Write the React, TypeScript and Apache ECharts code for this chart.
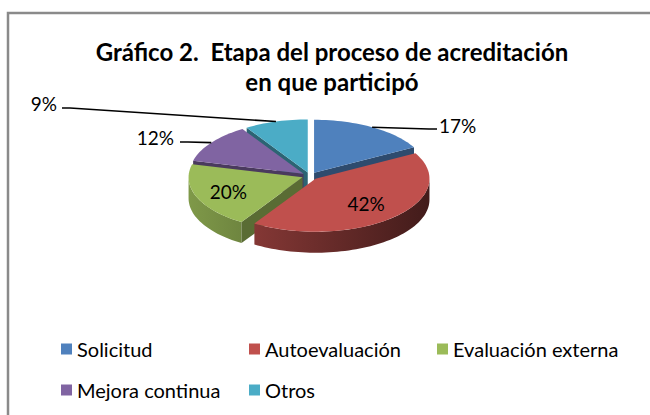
import React, { useEffect, useRef } from 'react';
import * as echarts from 'echarts';

// ---- data ----
const categories = ['Solicitud', 'Autoevaluación', 'Evaluación externa', 'Mejora continua', 'Otros'];
const percentages = [17, 42, 20, 12, 9];
const colors = ['#4F81BD', '#C0504D', '#9BBB59', '#8064A2', '#4BACC6'];
const titleLines = ['Gráfico 2.  Etapa del proceso de acreditación', 'en que participó'];

// ---- layout / style ----
const FONT = 'Lato, "Open Sans", sans-serif';
const CX = 310;
const CY = 176;
const RX = 114;
const RY = 53;
const DEPTH = 21;
const EXPLODE = 8;
// label placement per slice (relative to pie centre)
const labelLayout: any[] = [
  { outside: true, dx: 129, dy: -51, align: 'left', lineDx: -2, lineDy: 4 },
  { outside: false, f: 0.65 },
  { outside: false, f: 0.7 },
  { outside: true, dx: -136, dy: -39, align: 'right', lineDx: 6, lineDy: 5 },
  { outside: true, dx: -253, dy: -73, align: 'right', lineDx: 5, lineDy: 5 },
];
const drawOrder = [2, 5, 4, 3, 1];

function shade(hex: string, k: number): string {
  const n = parseInt(hex.slice(1), 16);
  const r = Math.round(((n >> 16) & 255) * k);
  const g = Math.round(((n >> 8) & 255) * k);
  const b = Math.round((n & 255) * k);
  return `rgb(${r},${g},${b})`;
}

function makeRender(i: number) {
  return (params: any, api: any) => {
    const total = percentages.reduce((a, b) => a + b, 0);
    let start = 0;
    for (let k = 0; k < i; k++) start += (percentages[k] / total) * 360;
    const v = api.value(0);
    const end = start + (v / total) * 360;
    const mid = (start + end) / 2;
    const mr = (mid * Math.PI) / 180;
    const ox = EXPLODE * Math.sin(mr);
    const oy = -EXPLODE * (RY / RX) * Math.cos(mr);
    const P = (t: number, dz: number, f = 1) => {
      const r = (t * Math.PI) / 180;
      return [CX + ox + RX * f * Math.sin(r), CY + oy - RY * f * Math.cos(r) + dz];
    };
    const arc = (a: number, b: number, dz: number) => {
      const pts: number[][] = [];
      const n = Math.max(2, Math.ceil((b - a) / 2));
      for (let j = 0; j <= n; j++) pts.push(P(a + ((b - a) * j) / n, dz));
      return pts;
    };
    const base = colors[i];
    const children: any[] = [];
    const c0 = [CX + ox, CY + oy];

    // outer wall (front half only)
    const ws = Math.max(start, 90);
    const we = Math.min(end, 270);
    if (we > ws) {
      const top = arc(ws, we, 0);
      const bot = arc(ws, we, DEPTH).reverse();
      children.push({
        type: 'polygon',
        shape: { points: top.concat(bot) },
        style: {
          fill: new echarts.graphic.LinearGradient(
            CX - RX - EXPLODE, 0, CX + RX + EXPLODE, 0,
            [
              { offset: 0, color: shade(base, 0.82) },
              { offset: 1, color: shade(base, 0.34) },
            ],
            true
          ),
        },
      });
    }
    // radial side faces
    const face = (t: number) => {
      const a = P(t, 0);
      const b = P(t, DEPTH);
      return {
        type: 'polygon',
        shape: { points: [c0, a, b, [c0[0], c0[1] + DEPTH]] },
        style: { fill: shade(base, 0.58) },
      };
    };
    if (Math.sin((start * Math.PI) / 180) < -1e-6) children.push(face(start));
    if (Math.sin((end * Math.PI) / 180) > 1e-6) children.push(face(end));
    // top face
    children.push({
      type: 'polygon',
      shape: { points: [c0].concat(arc(start, end, 0)) },
      style: { fill: base },
    });

    // label
    const text = `${Math.round((v / total) * 100)}%`;
    const L = labelLayout[i];
    const textStyle = {
      text,
      fill: '#000',
      fontSize: 19,
      fontFamily: FONT,
      font: `19px ${FONT}`,
    };
    if (L.outside) {
      const lx = CX + L.dx;
      const ly = CY + L.dy;
      const rim = P(mid, 0);
      const ex = lx + L.lineDx;
      const ey = ly + L.lineDy;
      const hx = ex + (L.align === 'left' ? -8 : 8);
      children.push({
        type: 'polyline',
        shape: { points: [[ex, ey], [hx, ey], rim] },
        style: { stroke: '#000', lineWidth: 1.6, fill: null },
        z2: 20,
      });
      children.push({
        type: 'text',
        x: lx,
        y: ly,
        style: {
          ...textStyle,
          align: L.align,
          textAlign: L.align,
          verticalAlign: 'middle',
          textVerticalAlign: 'middle',
        },
        z2: 21,
      });
    } else {
      const p = P(mid, 0, L.f);
      children.push({
        type: 'text',
        x: p[0],
        y: p[1],
        style: {
          ...textStyle,
          align: 'center',
          textAlign: 'center',
          verticalAlign: 'middle',
          textVerticalAlign: 'middle',
        },
        z2: 21,
      });
    }
    return { type: 'group', children };
  };
}

export default function App() {
  const ref = useRef<HTMLDivElement>(null);
  useEffect(() => {
    if (!ref.current) return;
    const chart = echarts.init(ref.current, null, { renderer: 'svg' });
    const legendCommon = {
      orient: 'vertical',
      itemWidth: 11,
      itemHeight: 11,
      itemGap: 19,
      icon: 'rect',
      padding: 0,
      selectedMode: false,
      textStyle: { fontFamily: FONT, fontSize: 20, color: '#000', lineHeight: 22 },
    };
    chart.setOption({
      animation: false,
      backgroundColor: '#fff',
      title: {
        text: titleLines.join('\n'),
        left: 327,
        top: 31,
        textAlign: 'center',
        textStyle: {
          fontFamily: FONT,
          fontSize: 24,
          fontWeight: 'bold',
          color: '#000',
          lineHeight: 30,
        },
      },
      legend: [
        { ...legendCommon, data: [categories[0], categories[3]], left: 61, top: 338 },
        { ...legendCommon, data: [categories[1], categories[4]], left: 249, top: 338 },
        { ...legendCommon, data: [categories[2]], left: 437, top: 338 },
      ],
      graphic: [
        {
          type: 'rect',
          shape: { x: 8, y: 13, width: 720, height: 500 },
          style: { fill: 'none', stroke: '#8a8a8a', lineWidth: 2.5 },
          silent: true,
          z: -10,
        },
      ],
      series: categories.map((name, i) => ({
        type: 'custom',
        name,
        coordinateSystem: 'none',
        data: [percentages[i]],
        itemStyle: { color: colors[i] },
        z: drawOrder[i],
        silent: true,
        renderItem: makeRender(i),
      })),
    });
    return () => chart.dispose();
  }, []);
  return (
    <div
      ref={ref}
      style={{ position: 'fixed', left: 0, top: 0, width: 650, height: 415, background: '#fff' }}
    />
  );
}
